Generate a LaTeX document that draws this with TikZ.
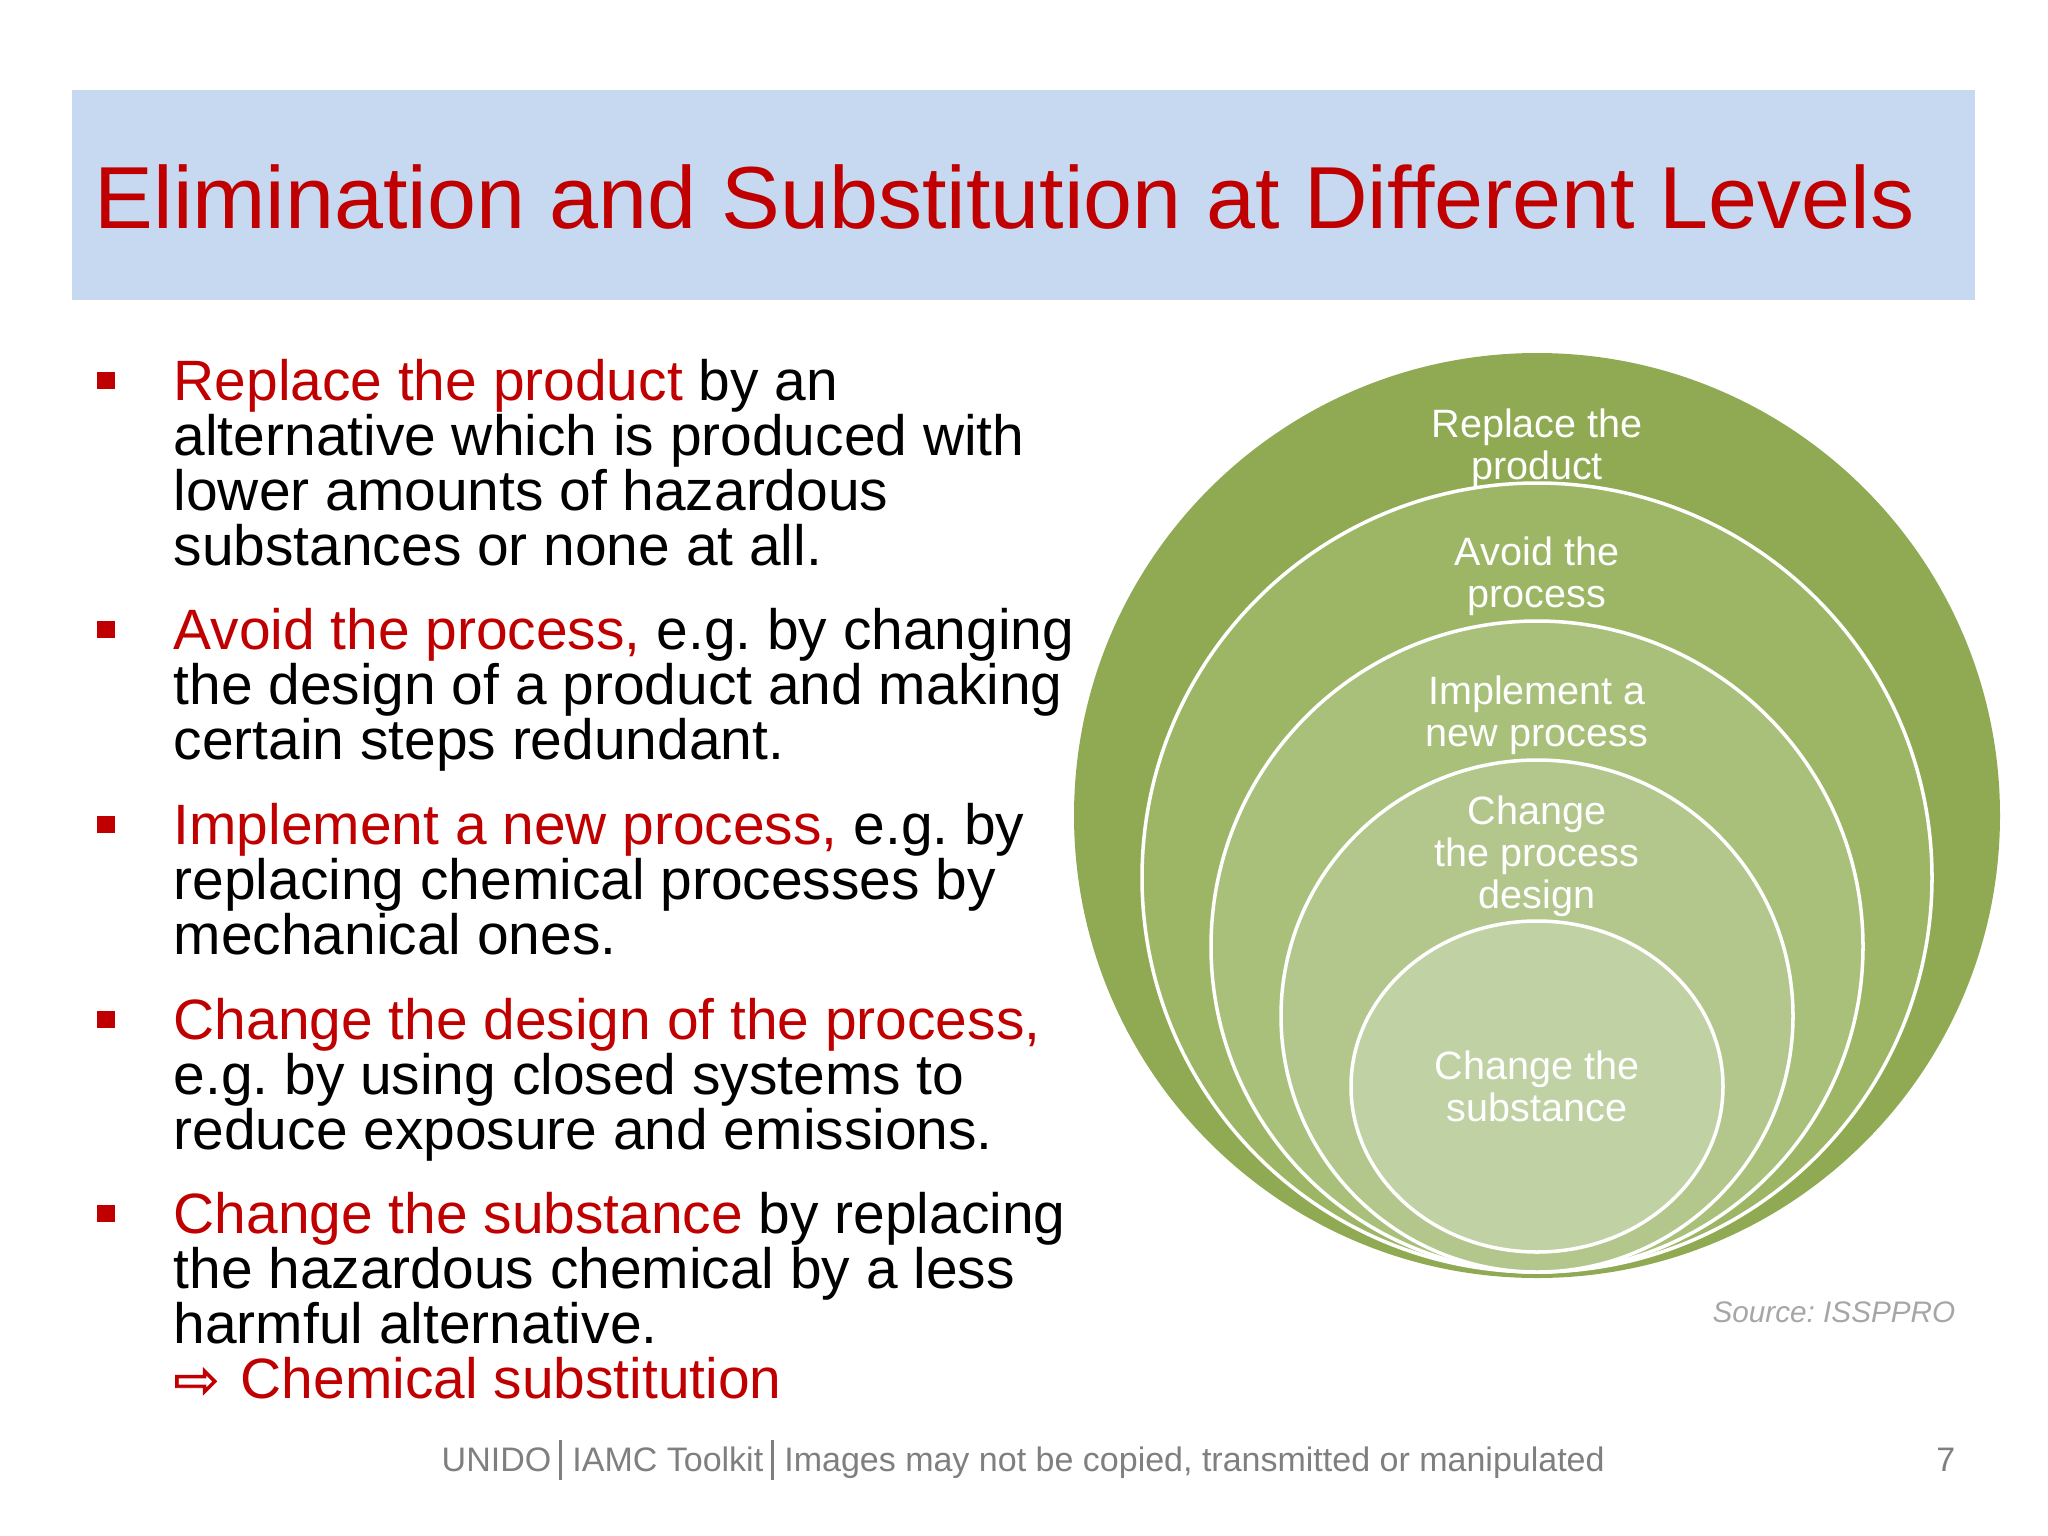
\documentclass[tikz,border=0pt]{standalone}
\usepackage{fontspec}
\setmainfont{Liberation Sans}
\newfontfamily\arrowfont[FakeBold=1.5]{DejaVu Sans}
\usepackage{xcolor}
\definecolor{titlered}{HTML}{C00000}
\definecolor{barblue}{HTML}{C6D9F0}
\definecolor{ringa}{HTML}{8FAA53}
\definecolor{ringb}{HTML}{9CB665}
\definecolor{ringc}{HTML}{A9C07A}
\definecolor{ringd}{HTML}{B3C78D}
\definecolor{ringe}{HTML}{C0D1A4}
\definecolor{footgray}{HTML}{7F7F7F}
\definecolor{sourcegray}{HTML}{A6A6A6}
\newcommand{\redtxt}[1]{\textcolor{titlered}{#1}}
\newcommand{\footbar}{\hspace{2.3pt}\rule[-2.6pt]{0.7pt}{11.4pt}\hspace{3pt}}
\tikzset{
 bodytext/.style={anchor=base west,inner sep=0pt,align=left,font=\fontsize{16.18}{15.6}\selectfont},
 bulletbox/.style={fill=titlered,inner sep=0pt,minimum width=17*0.2845pt,minimum height=17*0.2845pt},
 ringtext/.style={white,inner sep=0pt,align=center,font=\fontsize{11.25}{11.9}\selectfont},
 ring/.style={draw=white,line width=1pt}
}
\begin{document}
\frenchspacing
\begin{tikzpicture}[x=0.01cm,y=-0.01cm]
 \useasboundingbox (0,0) rectangle (2048,1536);
 \fill[barblue] (72,90) rectangle (1975,300);
 \node[anchor=base west,inner sep=0pt,titlered,font=\fontsize{25.05}{30}\selectfont] (title) at (94,228) {Elimination and Substitution at Different Levels};
 \node[bulletbox] (bulleta) at (106,380) {};
 \node[bulletbox] (bulletb) at (106,629) {};
 \node[bulletbox] (bulletc) at (106,824) {};
 \node[bulletbox] (bulletd) at (106,1019) {};
 \node[bulletbox] (bullete) at (106,1213) {};
 \node[bodytext] (itema) at (173,565.5) {\redtxt{Replace the product} by an\\alternative which is produced with\\lower amounts of hazardous\\substances or none at all.};
 \node[bodytext] (itemb) at (173,759.5) {\redtxt{Avoid the process,} e.g. by changing\\the design of a product and making\\certain steps redundant.};
 \node[bodytext] (itemc) at (173,954.5) {\redtxt{Implement a new process,} e.g. by\\replacing chemical processes by\\mechanical ones.};
 \node[bodytext] (itemd) at (173,1149.5) {\redtxt{Change the design of the process,}\\e.g. by using closed systems to\\reduce exposure and emissions.};
 \node[bodytext] (iteme) at (173,1398.5) {\redtxt{Change the substance} by replacing\\the hazardous chemical by a less\\harmful alternative.\\\redtxt{{\arrowfont\fontsize{15.5}{15.6}\selectfont ⇨}\hspace{1.6pt} Chemical substitution}};
 \fill[ringa] (1537,815.5) ellipse[x radius=463,y radius=462.5];
 \path[ring,fill=ringb] (1537,877.5) ellipse[x radius=395,y radius=394.5];
 \path[ring,fill=ringc] (1537,946.5) ellipse[x radius=326,y radius=325.5];
 \path[ring,fill=ringd] (1537,1016) ellipse[x radius=256,y radius=256];
 \path[ring,fill=ringe] (1537,1086.5) ellipse[x radius=186,y radius=165.5];
 \node[ringtext] (replace) at (1537,448) {Replace the\\product};
 \node[ringtext] (avoid) at (1537,576) {Avoid the\\process};
 \node[ringtext] (implement) at (1537,715) {Implement a\\new process};
 \node[ringtext] (change) at (1537,856) {Change\\the process\\design};
 \node[ringtext] (substance) at (1537,1086) {Change the\\substance};
 \node[anchor=base east,inner sep=0pt,sourcegray,font=\fontsize{8.45}{10}\selectfont\itshape] (source) at (1956,1322) {Source: ISSPPRO};
 \node[anchor=base west,inner sep=0pt,footgray,font=\fontsize{9.67}{11}\selectfont] (footer) at (441,1471) {UNIDO\footbar IAMC Toolkit\footbar Images may not be copied, transmitted or manipulated};
 \node[anchor=base east,inner sep=0pt,footgray,font=\fontsize{9.67}{11}\selectfont] (pagenum) at (1956,1471) {7};
\end{tikzpicture}
\end{document}
